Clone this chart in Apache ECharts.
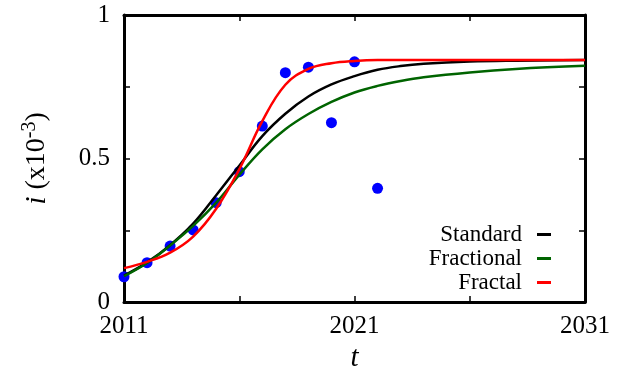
<!DOCTYPE html>
<html>
<head>
<meta charset="utf-8">
<title>i(t)</title>
<script src="https://cdn.jsdelivr.net/npm/echarts@6/dist/echarts.min.js"></script>
<style>
  html, body {margin: 0; padding: 0; background: #fff;}
  #main {width: 623px; height: 368px;}
</style>
</head>
<body>
<div id="main"></div>
<script>
//observed data
var obsYears = [2011, 2012, 2013, 2014, 2015, 2016, 2017, 2018, 2019, 2020, 2021, 2022];
var obsValues = [0.088, 0.137, 0.195, 0.251, 0.346, 0.454, 0.613, 0.799, 0.818, 0.625, 0.837, 0.396];

//model curves
var curveYears = [2011, 2012, 2013, 2014, 2015, 2016, 2017, 2018, 2019, 2020, 2021, 2022, 2023, 2024, 2026, 2028, 2031];
var standard   = [0.092, 0.138, 0.198, 0.273, 0.372, 0.475, 0.578, 0.656, 0.716, 0.758, 0.787, 0.809, 0.822, 0.830, 0.838, 0.841, 0.843];
var fractional = [0.090, 0.136, 0.197, 0.265, 0.346, 0.443, 0.532, 0.602, 0.655, 0.697, 0.730, 0.753, 0.770, 0.783, 0.800, 0.812, 0.823];
var fractal    = [0.118, 0.140, 0.172, 0.228, 0.325, 0.462, 0.630, 0.757, 0.812, 0.832, 0.840, 0.843, 0.843, 0.843, 0.843, 0.843, 0.843];

var xTickLabels = [2011, 2021, 2031];
var yTickLabels = [0, 0.5, 1];

var startYear = 2011;
var font = 'Liberation Serif';

//x axis counts years from 2011
function pairs(xs, ys){
  return xs.map(function(x, k){ return [x - startYear, ys[k]]; });
}

var chart = echarts.init(document.getElementById('main'));

var xBase = {
  type: 'value'
  ,min: 0
  ,max: 20
  ,interval: 5
  ,splitLine: {show: false}
  ,axisLine: {show: true, onZero: false, lineStyle: {color: '#000', width: 3}}
  ,axisTick: {show: true, inside: true, length: 6, lineStyle: {color: '#000', width: 1.5}}
};
var yBase = {
  type: 'value'
  ,min: 0
  ,max: 1
  ,interval: 0.25
  ,splitLine: {show: false}
  ,axisLine: {show: true, onZero: false, lineStyle: {color: '#000', width: 3}}
  ,axisTick: {show: true, inside: true, length: 6, lineStyle: {color: '#000', width: 1.5}}
};

chart.setOption({
  backgroundColor: '#fff'
  ,animation: false
  ,grid: {left: 124, right: 38, top: 15, bottom: 66, containLabel: false, outerBoundsMode: 'none'}
  ,legend: {
    orient: 'vertical'
    ,right: 67
    ,top: 218
    ,align: 'right'
    ,itemGap: 1
    ,itemWidth: 14
    ,itemHeight: 3
    ,icon: 'rect'
    ,data: ['Standard', 'Fractional', 'Fractal']
    ,textStyle: {fontFamily: font, fontSize: 23, color: '#000', padding: [0, 10, 0, 0]}
  }
  ,xAxis: [
    Object.assign({}, xBase, {
      position: 'bottom'
      ,name: 't'
      ,nameLocation: 'middle'
      ,nameGap: 40
      ,nameTextStyle: {fontFamily: font, fontSize: 29, fontStyle: 'italic', color: '#000'}
      ,axisLabel: {
        fontFamily: font, fontSize: 25, color: '#000', margin: 12
        ,formatter: function(v){
          var y = v + startYear;
          return xTickLabels.indexOf(y) >= 0 ? String(y) : '';
        }
      }
    })
    ,Object.assign({}, xBase, {position: 'top', axisLabel: {show: false}})
  ]
  ,yAxis: [
    Object.assign({}, yBase, {
      position: 'left'
      ,name: '{it|i} (x10{sup|-3})'
      ,nameLocation: 'middle'
      ,nameGap: 70
      ,nameRotate: 90
      ,nameTextStyle: {
        fontFamily: font, fontSize: 28, color: '#000', lineHeight: 34
        ,rich: {
          it: {fontFamily: font, fontSize: 30, fontStyle: 'italic', color: '#000', lineHeight: 34}
          ,sup: {fontFamily: font, fontSize: 20, color: '#000', verticalAlign: 'top', lineHeight: 18}
        }
      }
      ,axisLabel: {
        fontFamily: font, fontSize: 25, color: '#000', margin: 14
        ,formatter: function(v){
          return yTickLabels.indexOf(v) >= 0 ? String(v) : '';
        }
      }
    })
    ,Object.assign({}, yBase, {position: 'right', axisLabel: {show: false}})
  ]
  ,series: [{
    name: 'Data'
    ,type: 'scatter'
    ,symbol: 'circle'
    ,symbolSize: 11
    ,itemStyle: {color: '#0000ff', opacity: 1}
    ,z: 1
    ,data: pairs(obsYears, obsValues)
  },{
    name: 'Standard'
    ,type: 'line'
    ,smooth: 0.4
    ,showSymbol: false
    ,color: '#000000'
    ,lineStyle: {color: '#000000', width: 2.5}
    ,z: 3
    ,data: pairs(curveYears, standard)
  },{
    name: 'Fractional'
    ,type: 'line'
    ,smooth: 0.4
    ,showSymbol: false
    ,color: '#006400'
    ,lineStyle: {color: '#006400', width: 2.5}
    ,z: 3
    ,data: pairs(curveYears, fractional)
  },{
    name: 'Fractal'
    ,type: 'line'
    ,smooth: 0.4
    ,showSymbol: false
    ,color: '#ff0000'
    ,lineStyle: {color: '#ff0000', width: 2.5}
    ,z: 4
    ,data: pairs(curveYears, fractal)
  }]
});
</script>
</body>
</html>
